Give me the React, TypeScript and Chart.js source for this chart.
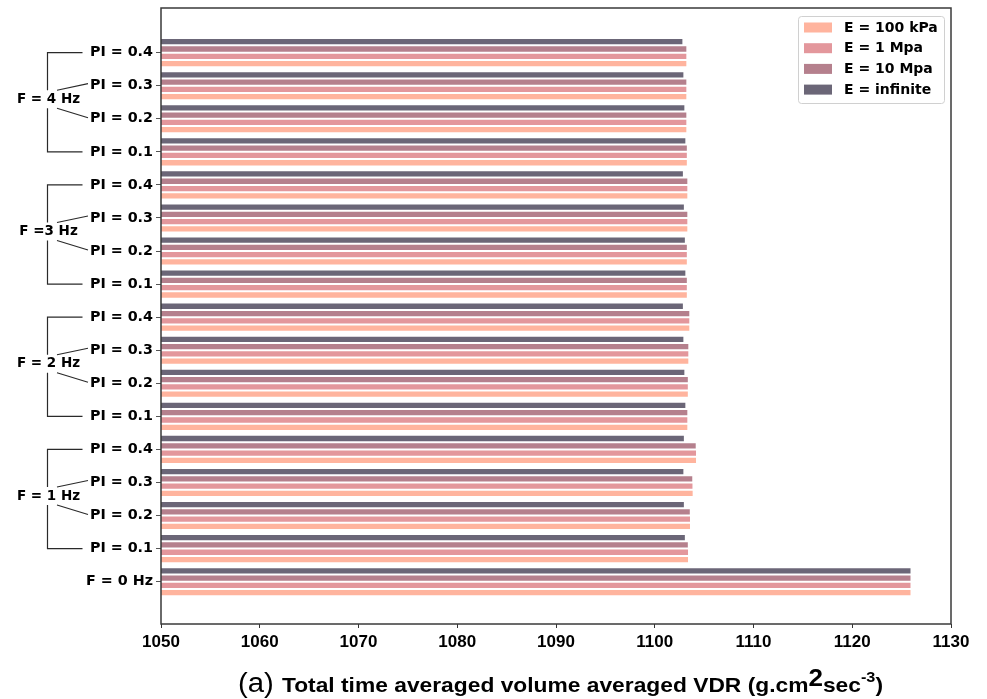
import React, { useEffect, useRef } from 'react';
import { Chart, registerables } from 'chart.js';

Chart.register(...registerables);

// ---- data (top to bottom) ----
const categories = [
  'PI = 0.4', 'PI = 0.3', 'PI = 0.2', 'PI = 0.1',
  'PI = 0.4', 'PI = 0.3', 'PI = 0.2', 'PI = 0.1',
  'PI = 0.4', 'PI = 0.3', 'PI = 0.2', 'PI = 0.1',
  'PI = 0.4', 'PI = 0.3', 'PI = 0.2', 'PI = 0.1',
  'F = 0 Hz',
];
const groupLabels = ['F = 4 Hz', 'F =3 Hz', 'F = 2 Hz', 'F = 1 Hz'];

const eInfinite = [
  1102.9, 1103.0, 1103.1, 1103.2,
  1102.95, 1103.05, 1103.15, 1103.2,
  1102.95, 1103.0, 1103.1, 1103.2,
  1103.05, 1103.0, 1103.05, 1103.15,
  1126.0,
];
const e10Mpa = [
  1103.3, 1103.3, 1103.3, 1103.35,
  1103.4, 1103.4, 1103.35, 1103.35,
  1103.6, 1103.5, 1103.45, 1103.4,
  1104.25, 1103.9, 1103.65, 1103.45,
  1126.0,
];
const e1Mpa = [
  1103.3, 1103.3, 1103.3, 1103.35,
  1103.4, 1103.4, 1103.35, 1103.35,
  1103.6, 1103.5, 1103.45, 1103.4,
  1104.28, 1103.92, 1103.67, 1103.47,
  1126.0,
];
const e100kPa = [
  1103.3, 1103.3, 1103.3, 1103.35,
  1103.4, 1103.4, 1103.35, 1103.35,
  1103.6, 1103.5, 1103.45, 1103.4,
  1104.28, 1103.94, 1103.67, 1103.47,
  1126.0,
];

const xTicks = [1050, 1060, 1070, 1080, 1090, 1100, 1110, 1120, 1130];

const seriesLabels = ['E = infinite', 'E = 10 Mpa', 'E = 1 Mpa', 'E = 100 kPa'];
const seriesValues = [eInfinite, e10Mpa, e1Mpa, e100kPa];
const seriesColors = ['#6b6677', '#b5808d', '#e3979c', '#ffb49e'];

const BOLD = "bold 13.5px 'DejaVu Sans'";

const decorPlugin = {
  id: 'decor',
  afterDraw(chart: any) {
    const { ctx, chartArea: a } = chart;
    const y = chart.scales.y;
    ctx.save();
    // frame
    ctx.strokeStyle = '#3a3a3a';
    ctx.lineWidth = 1.5;
    ctx.strokeRect(a.left, a.top, a.right - a.left, a.bottom - a.top);

    // brackets on the left
    const vx = a.left - 113.5;
    const hEnd = a.left - 78.5;
    const dStart = a.left - 104;
    const dEnd = a.left - 73;
    ctx.strokeStyle = '#2a2a2a';
    ctx.lineWidth = 1.2;
    ctx.font = BOLD;
    ctx.fillStyle = '#000';
    ctx.textAlign = 'center';
    ctx.textBaseline = 'middle';
    groupLabels.forEach((lab, gi) => {
      const b = gi * 4;
      const y0 = y.getPixelForValue(b);
      const y1 = y.getPixelForValue(b + 1);
      const y2 = y.getPixelForValue(b + 2);
      const y3 = y.getPixelForValue(b + 3);
      const ly = (y1 + y2) / 2 - 3;
      ctx.beginPath();
      ctx.moveTo(hEnd, y0);
      ctx.lineTo(vx, y0);
      ctx.lineTo(vx, ly - 9);
      ctx.moveTo(vx, ly + 9);
      ctx.lineTo(vx, y3);
      ctx.lineTo(hEnd, y3);
      ctx.moveTo(dStart, ly - 9);
      ctx.lineTo(dEnd, y1 - 2);
      ctx.moveTo(dStart, ly + 9);
      ctx.lineTo(dEnd, y2 - 1);
      ctx.stroke();
      ctx.fillText(lab, vx + 1, ly);
    });

    // legend
    const lx = 798, ly0 = 16, lw = 146, lh = 87;
    ctx.fillStyle = 'rgba(255,255,255,0.85)';
    ctx.strokeStyle = '#d0d0d0';
    ctx.lineWidth = 1;
    ctx.beginPath();
    (ctx as any).roundRect(lx + 0.5, ly0 + 0.5, lw, lh, 3);
    ctx.fill();
    ctx.stroke();
    const ds = [...chart.data.datasets].reverse();
    ctx.font = "bold 14px 'DejaVu Sans'";
    ctx.textAlign = 'left';
    ctx.textBaseline = 'middle';
    ds.forEach((d: any, i: number) => {
      const cy = 27.5 + i * 20.7;
      ctx.fillStyle = d.backgroundColor;
      ctx.fillRect(lx + 6, cy - 5, 28, 10);
      ctx.fillStyle = '#000';
      ctx.fillText(d.label, lx + 46, cy + 0.5);
    });

    // x-axis title (rich text)
    const family = "'Liberation Sans Narrow', 'Liberation Sans', Arial, sans-serif";
    const parts = [
      { t: '(a) ', f: `27px ${family}`, dy: 0 },
      { t: 'Total time averaged volume averaged VDR (g.cm', f: `bold 21px ${family}`, dy: 0 },
      { t: '2', f: `bold 24px ${family}`, dy: -6 },
      { t: 'sec', f: `bold 21px ${family}`, dy: 0 },
      { t: '-3', f: `bold 15px ${family}`, dy: -10 },
      { t: ')', f: `bold 21px ${family}`, dy: 0 },
    ];
    let total = 0;
    const widths = parts.map((p) => {
      ctx.font = p.f;
      const w = ctx.measureText(p.t).width;
      total += w;
      return w;
    });
    const targetLeft = 238, targetRight = 883;
    const sx = (targetRight - targetLeft) / total;
    const baseY = 692;
    ctx.save();
    ctx.translate(targetLeft, baseY);
    ctx.scale(sx, 1);
    ctx.fillStyle = '#000';
    ctx.textAlign = 'left';
    ctx.textBaseline = 'alphabetic';
    let cx = 0;
    parts.forEach((p, i) => {
      ctx.font = p.f;
      ctx.fillText(p.t, cx, p.dy);
      cx += widths[i];
    });
    ctx.restore();
    ctx.restore();
  },
};

export default function App() {
  const ref = useRef<HTMLCanvasElement | null>(null);
  useEffect(() => {
    if (!ref.current) return;
    const chart = new Chart(ref.current, {
      type: 'bar',
      data: {
        datasets: seriesLabels.map((label, si) => ({
          label,
          data: seriesValues[si].map((v, i) => ({ x: v, y: i })),
          backgroundColor: seriesColors[si],
          borderColor: 'rgba(255,255,255,0.65)',
          borderWidth: 1,
          categoryPercentage: 0.88,
          barPercentage: 1,
        })),
      },
      plugins: [decorPlugin],
      options: {
        indexAxis: 'y',
        responsive: false,
        animation: false,
        layout: { padding: { top: 8, right: 36, left: 0, bottom: 0 } },
        plugins: {
          legend: { display: false },
          tooltip: { enabled: false },
        },
        scales: {
          x: {
            type: 'linear',
            min: 1050,
            max: 1130,
            afterBuildTicks: (scale: any) => {
              scale.ticks = xTicks.map((v) => ({ value: v }));
            },
            afterFit: (scale: any) => {
              scale.height = 75;
            },
            grid: { drawOnChartArea: false, drawTicks: true, tickLength: 4, tickColor: '#333' },
            border: { display: false },
            ticks: {
              color: '#000',
              padding: 4,
              maxRotation: 0,
              font: { family: "'Liberation Sans Narrow', 'Liberation Sans'", weight: 'bold', size: 17 },
              callback: (v: any) => String(v),
            },
          },
          y: {
            type: 'linear',
            reverse: true,
            offset: false,
            min: -1.35,
            max: 17.28,
            afterBuildTicks: (scale: any) => {
              scale.ticks = categories.map((_, i) => ({ value: i }));
            },
            afterFit: (scale: any) => {
              scale.width = 161;
              scale.paddingTop = 0;
              scale.paddingBottom = 0;
            },
            grid: { offset: false, drawOnChartArea: false, drawTicks: true, tickLength: 5, tickColor: '#555' },
            border: { display: false },
            ticks: {
              color: '#000',
              padding: 3,
              autoSkip: false,
              font: { family: "'DejaVu Sans'", weight: 'bold', size: 14.3 },
              callback: (v: any) => categories[v as number] ?? '',
            },
          },
        },
      } as any,
    });
    return () => chart.destroy();
  }, []);
  return (
    <div style={{ position: 'fixed', left: 0, top: 0, width: 987, height: 699, background: '#fff' }}>
      <canvas ref={ref} width={987} height={699} style={{ display: 'block' }} />
    </div>
  );
}
